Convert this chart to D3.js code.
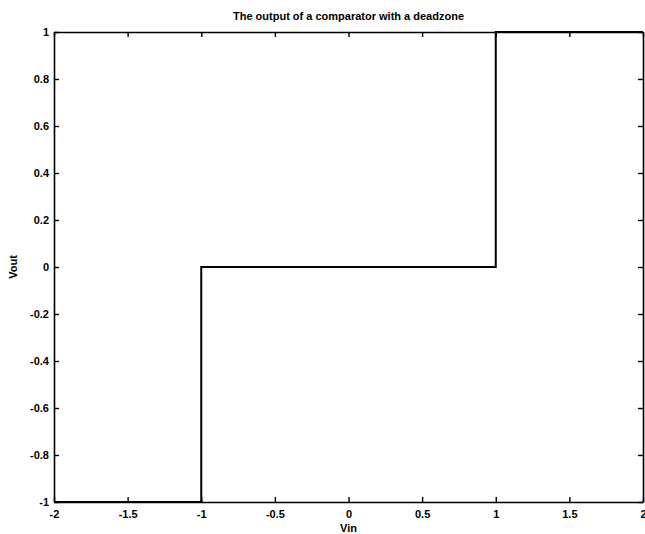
<!DOCTYPE html>
<html>
<head>
<meta charset="utf-8">
<script src="https://cdn.jsdelivr.net/npm/d3@7"></script>
<style>
  html, body { margin: 0; padding: 0; background: #fff; }
  svg { display: block; }
  text { font-family: "Liberation Sans", Arial, Helvetica, sans-serif; fill: #000; }
</style>
</head>
<body>
<svg id="chart" width="645" height="534"></svg>
<script>
// Comparator transfer curve with a deadzone between -1 and 1
const vin  = [-2, -1, -1, 1, 1, 2];
const vout = [-1, -1,  0, 0, 1, 1];

const xTicks = [-2, -1.5, -1, -0.5, 0, 0.5, 1, 1.5, 2];
const yTicks = [-1, -0.8, -0.6, -0.4, -0.2, 0, 0.2, 0.4, 0.6, 0.8, 1];

const titleText = "The output of a comparator with a deadzone";
const xLabel = "Vin";
const yLabel = "Vout";

const W = 645, H = 534;
const m = { left: 54, right: 2, top: 32, bottom: 32 };

const svg = d3.select("#chart");

const x = d3.scaleLinear().domain([-2, 2]).range([m.left, W - m.right]);
const y = d3.scaleLinear().domain([-1, 1]).range([H - m.bottom, m.top]);

const fmt = d => String(d);
const tickLen = 5;

// Bottom axis with labels, ticks pointing inward
const axBottom = svg.append("g")
  .attr("transform", `translate(0,${y(-1)})`)
  .call(d3.axisBottom(x).tickValues(xTicks).tickFormat(fmt).tickSizeInner(-tickLen).tickSizeOuter(0).tickPadding(8));
// Top axis, ticks only
const axTop = svg.append("g")
  .attr("transform", `translate(0,${y(1)})`)
  .call(d3.axisTop(x).tickValues(xTicks).tickFormat("").tickSizeInner(-tickLen).tickSizeOuter(0));
// Left axis with labels
const axLeft = svg.append("g")
  .attr("transform", `translate(${x(-2)},0)`)
  .call(d3.axisLeft(y).tickValues(yTicks).tickFormat(fmt).tickSizeInner(-tickLen).tickSizeOuter(0).tickPadding(5));
// Right axis, ticks only
const axRight = svg.append("g")
  .attr("transform", `translate(${x(2)},0)`)
  .call(d3.axisRight(y).tickValues(yTicks).tickFormat("").tickSizeInner(-tickLen).tickSizeOuter(0));

[axBottom, axTop, axLeft, axRight].forEach(g => {
  g.selectAll(".domain").attr("stroke", "#000").attr("stroke-width", 1.6);
  g.selectAll(".tick line").attr("stroke", "#000").attr("stroke-width", 1.4);
  g.selectAll(".tick text")
    .style("font-family", "'Liberation Sans', Arial, sans-serif")
    .style("font-size", "11px")
    .style("font-weight", "bold")
    .attr("fill", "#000");
});
axLeft.selectAll(".tick text").attr("dy", "0.35em");

// Transfer curve
const line = d3.line().x((d, i) => x(vin[i])).y((d, i) => y(vout[i]));
svg.append("path")
  .datum(vin)
  .attr("d", line)
  .attr("fill", "none")
  .attr("stroke", "#000")
  .attr("stroke-width", 2);

// Title and axis labels
svg.append("text")
  .attr("x", (x(-2) + x(2)) / 2)
  .attr("y", 20)
  .attr("text-anchor", "middle")
  .style("font-size", "11px")
  .style("font-weight", "bold")
  .text(titleText);

svg.append("text")
  .attr("x", (x(-2) + x(2)) / 2)
  .attr("y", 532)
  .attr("text-anchor", "middle")
  .style("font-size", "11px")
  .style("font-weight", "bold")
  .text(xLabel);

svg.append("text")
  .attr("transform", `translate(17,${(y(-1) + y(1)) / 2}) rotate(-90)`)
  .attr("text-anchor", "middle")
  .style("font-size", "11px")
  .style("font-weight", "bold")
  .text(yLabel);
</script>
</body>
</html>
